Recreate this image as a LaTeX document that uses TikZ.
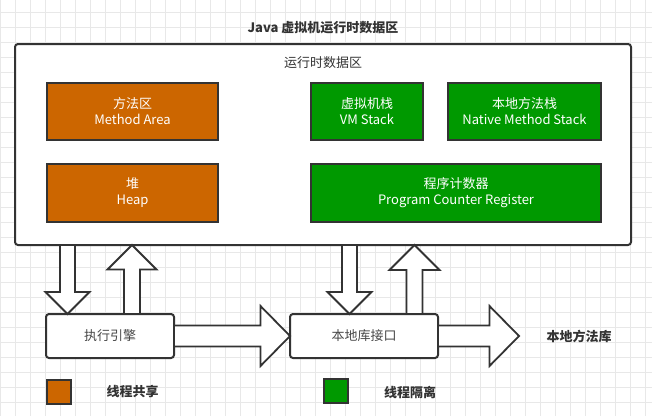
\documentclass[tikz,border=0pt]{standalone}
\usepackage{fontspec}
\setmainfont{Noto Sans CJK SC}
\usepackage{xcolor}
\usepackage{tikz}
\usetikzlibrary{positioning,calc}
\definecolor{jorange}{HTML}{CC6600}
\definecolor{jgreen}{HTML}{009900}
\definecolor{jdark}{HTML}{333333}
\definecolor{jsoft}{HTML}{474747}
\definecolor{jgrid}{HTML}{E8E8E8}

% hollow block arrow: start, tip, shaft half width, head half width, head length
\newcommand{\fatarrow}[5]{%
  \path ($(#2)!#5!(#1)$) coordinate (fatbase);
  \draw[fat] ($(#1)!#3!90:(#2)$) -- ($(fatbase)!#3!90:(#2)$)
    -- ($(fatbase)!#4!90:(#2)$) -- (#2) -- ($(fatbase)!#4!-90:(#2)$)
    -- ($(fatbase)!#3!-90:(#2)$) -- ($(#1)!#3!-90:(#2)$) -- cycle;}

\begin{document}
\begin{tikzpicture}[x=1pt,y=-1pt,
  font=\fontsize{13}{16}\selectfont,
  gridln/.style={draw=jgrid,line width=1pt},
  area/.style={draw=jdark,line width=2pt,minimum height=57pt,align=center,
               text=white,inner sep=0pt,outer sep=0pt},
  shared/.style={area,fill=jorange},
  private/.style={area,fill=jgreen},
  pane/.style={draw=jdark,line width=2pt,fill=white,rounded corners=3pt,
               inner sep=0pt,outer sep=0pt},
  unit/.style={pane,minimum height=44pt,text=jsoft},
  key/.style={draw=jdark,line width=2pt,minimum size=24pt,inner sep=0pt},
  note/.style={text=jdark,font=\fontsize{13}{16}\selectfont\bfseries},
  fat/.style={draw=jdark,line width=1.8pt,fill=white,line join=miter}]

  \useasboundingbox (0,0) rectangle (652,416);
  \fill[white] (0,0) rectangle (652,416);
  \foreach \gx in {0,...,43} \draw[gridln] (\gx*15+0.3,0) -- (\gx*15+0.3,416);
  \foreach \gy in {0,...,27} \draw[gridln] (0,\gy*15+12.3) -- (652,\gy*15+12.3);

  \node[note] (title) at (323,28) {Java 虚拟机运行时数据区};
  \node[pane,minimum width=616pt,minimum height=201pt] (rda) at (323,144.5) {};
  \node[text=jdark] (rdalbl) at (323,63) {运行时数据区};

  \node[shared,minimum width=171pt] (method) at (132.5,111.5) {方法区\\Method Area};
  \node[shared,minimum width=171pt,minimum height=58pt,below=24pt of method] (heap)
       {堆\\Heap};
  \node[private,minimum width=112pt] (vms) at (367,111.5) {虚拟机栈\\VM Stack};
  \node[private,minimum width=153pt,right=25pt of vms] (nms)
       {本地方法栈\\Native Method Stack};
  \node[private,minimum width=290pt,minimum height=58pt] (pcr) at (456,193)
       {程序计数器\\Program Counter Register};

  \node[unit,minimum width=128pt] (exe) at (110,336) {执行引擎};
  \node[unit,minimum width=148pt,right=116pt of exe] (jni) {本地库接口};
  \node[note] (nlib) at (579,336) {本地方法库};

  \node[key,fill=jorange] (keysh) at (58.5,391.5) {};
  \node[note] (keyshlbl) at (132.5,392) {线程共享};
  \node[key,fill=jgreen] (keypr) at (336,390.5) {};
  \node[note] (keyprlbl) at (410,392) {线程隔离};

  \coordinate (dn1) at ($(exe.north west)+(21.5,0)$);
  \coordinate (up1) at ($(exe.north west)+(86,0)$);
  \coordinate (dn2) at ($(jni.north west)+(59.5,0)$);
  \coordinate (up2) at ($(jni.north west)+(124.5,0)$);
  \coordinate (lib) at ($(jni.east)+(81,0)$);

  \fatarrow{dn1 |- rda.south}{dn1}{7.5pt}{22pt}{22pt}
  \fatarrow{up1}{up1 |- rda.south}{8pt}{24.5pt}{24.5pt}
  \fatarrow{exe.east}{jni.west}{10.5pt}{30pt}{29.5pt}
  \fatarrow{dn2 |- rda.south}{dn2}{7.5pt}{22pt}{22pt}
  \fatarrow{up2}{up2 |- rda.south}{8pt}{25pt}{25pt}
  \fatarrow{jni.east}{lib}{10.5pt}{30pt}{29.5pt}
\end{tikzpicture}
\end{document}
